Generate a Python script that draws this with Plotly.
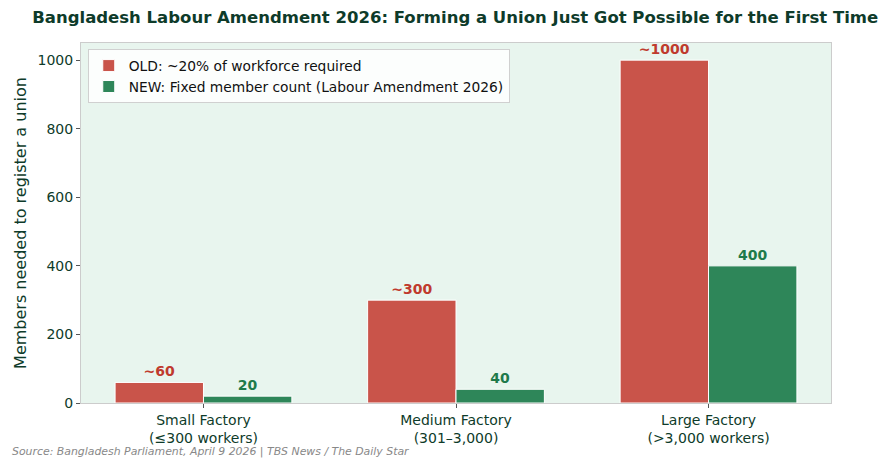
import plotly.graph_objects as go

categories = ["Small Factory<br>(≤300 workers)", "Medium Factory<br>(301–3,000)", "Large Factory<br>(>3,000 workers)"]
old_values = [60, 300, 1000]
new_values = [20, 40, 400]
old_labels = ["~60", "~300", "~1000"]
new_labels = ["20", "40", "400"]
y_ticks = [0, 200, 400, 600, 800, 1000]

RED = "#c9544a"
GREEN = "#2e8659"
DARK = "#0e3b2a"
FONT = "DejaVu Sans"

fig = go.Figure()
fig.add_trace(go.Bar(
    x=categories, y=old_values, name="OLD: ~20% of workforce required",
    marker=dict(color=RED, line=dict(color="white", width=1)),
    text=old_labels, textposition="outside", cliponaxis=False,
    textfont=dict(color="#bf3a2d", size=14, family=FONT, weight="bold"),
))
fig.add_trace(go.Bar(
    x=categories, y=new_values, name="NEW: Fixed member count (Labour Amendment 2026)",
    marker=dict(color=GREEN, line=dict(color="white", width=1)),
    text=new_labels, textposition="outside", cliponaxis=False,
    textfont=dict(color="#1e7a4a", size=14, family=FONT, weight="bold"),
))

fig.update_layout(
    width=891, height=469,
    barmode="group", bargap=0.3, bargroupgap=0,
    paper_bgcolor="white", plot_bgcolor="#e8f5ee",
    margin=dict(l=81, r=60, t=43, b=66),
    font=dict(family=FONT, color=DARK, size=14),
    title=dict(text="<b>Bangladesh Labour Amendment 2026: Forming a Union Just Got Possible for the First Time</b>",
               x=0.499, xref="paper", xanchor="center", y=0.964, yanchor="middle",
               font=dict(size=16.5, color=DARK, family=FONT)),
    legend=dict(x=0.009, y=0.983, xanchor="left", yanchor="top",
                bgcolor="rgba(255,255,255,0.85)", bordercolor="#d0d0d0", borderwidth=1,
                font=dict(size=13.8, color="#111111"), tracegroupgap=0),
    showlegend=True,
)
fig.update_xaxes(
    range=[-0.485, 2.485], showline=True, linecolor="#cccccc", linewidth=1, mirror=True,
    ticks="outside", ticklen=4, tickcolor="#555555", tickfont=dict(size=14, color=DARK),
    showgrid=False,
)
fig.update_yaxes(
    range=[0, 1050], tickvals=y_ticks, showline=True, linecolor="#cccccc", linewidth=1, mirror=True,
    ticks="outside", ticklen=4, tickcolor="#555555", tickfont=dict(size=14, color=DARK),
    showgrid=False, zeroline=False,
    title=dict(text="Members needed to register a union", font=dict(size=16, color=DARK), standoff=6),
)
fig.add_annotation(
    text="Source: Bangladesh Parliament, April 9 2026 | TBS News / The Daily Star",
    xref="paper", yref="paper", x=-0.095, y=-0.136, xanchor="left", yanchor="middle",
    showarrow=False, font=dict(size=10.9, color="#888888", family=FONT, style="italic"),
)
fig.write_html("out.html", config={"displayModeBar": False},
               post_script="document.body.style.margin='0';document.body.style.padding='0';")
